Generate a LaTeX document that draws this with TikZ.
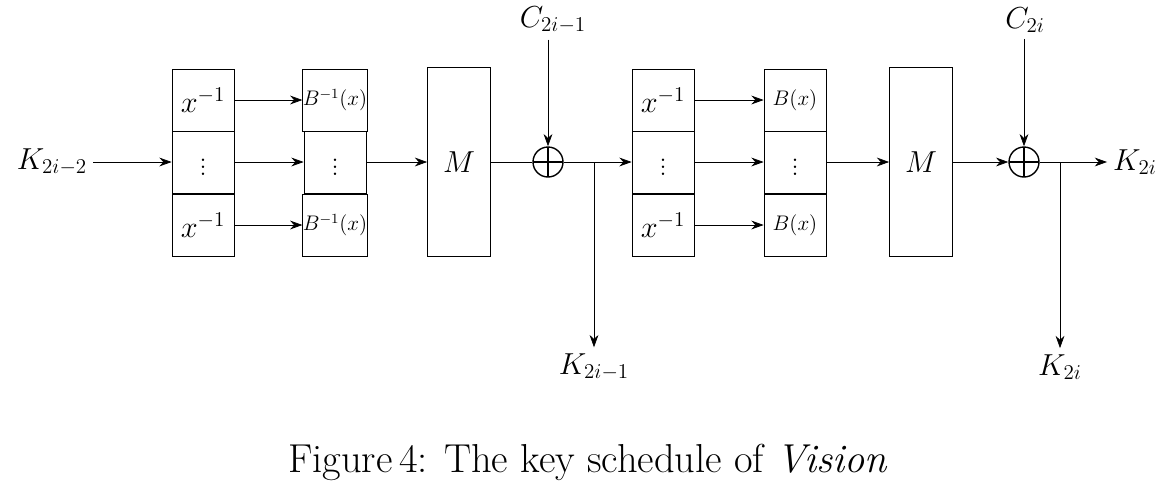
\documentclass[tikz,border=0pt]{standalone}
\usepackage{amsmath}
\usepackage{amssymb}
\usetikzlibrary{arrows.meta}
\begin{document}
\begin{tikzpicture}[x=0.02cm,y=-0.02cm,>={Stealth[length=7pt,width=5pt]},
  every node/.style={font=\fontsize{17}{20}\selectfont},
  cell/.style={draw,minimum width=62*0.02cm,minimum height=62*0.02cm,inner sep=0pt},
  big/.style={draw,minimum width=63*0.02cm,minimum height=189*0.02cm,inner sep=0pt},
  xr/.style={circle,draw,thick,minimum size=30*0.02cm,inner sep=0pt,
    path picture={\draw[thick] (path picture bounding box.north) -- (path picture bounding box.south)
      (path picture bounding box.west) -- (path picture bounding box.east);}},
  sm/.style={font=\fontsize{12}{14}\selectfont}]
\useasboundingbox (0,0) rectangle (1156,495);
% first round
\node[cell] (a1) at (203,100) {$x^{-1}$};
\node[cell] (a2) at (203,162) {$\vdots$};
\node[cell] (a3) at (203,225) {$x^{-1}$};
\node[cell,sm] (b1) at (335,100) {$B^{-1}(x)$};
\node[cell] (b2) at (335,162) {$\vdots$};
\node[cell,sm] (b3) at (335,225) {$B^{-1}(x)$};
\node[big] (m1) at (459,162) {$M$};
\node[xr] (x1) at (548,162) {};
% second round
\node[cell] (c1) at (663,100) {$x^{-1}$};
\node[cell] (c2) at (663,162) {$\vdots$};
\node[cell] (c3) at (663,225) {$x^{-1}$};
\node[cell,sm] (d1) at (795,100) {$B(x)$};
\node[cell] (d2) at (795,162) {$\vdots$};
\node[cell,sm] (d3) at (795,225) {$B(x)$};
\node[big] (m2) at (921,162) {$M$};
\node[xr] (x2) at (1024,162) {};
% labels
\node (kin) at (52,162) {$K_{2i-2}$};
\node (c1in) at (553,20) {$C_{2i-1}$};
\node (c2in) at (1025,20) {$C_{2i}$};
\node (k1) at (594,367) {$K_{2i-1}$};
\node (k2) at (1060,367) {$K_{2i}$};
\node (kout) at (1135,162) {$K_{2i}$};
\coordinate (s1) at (594,162);
\coordinate (s2) at (1060,162);
% connectors
\draw[->] (kin) -- (a2);
\foreach \r in {1,2,3}{
  \draw[->] (a\r) -- (b\r);
  \draw[->] (c\r) -- (d\r);
}
\draw[->] (b2) -- (m1);
\draw (m1) -- (x1);
\draw[->] (x1|-c1in.south) -- (x1);
\draw[->] (x1) -- (c2);
\draw[->] (s1) -- (k1);
\draw[->] (d2) -- (m2);
\draw[->] (m2) -- (x2);
\draw[->] (x2|-c2in.south) -- (x2);
\draw[->] (x2) -- (kout);
\draw[->] (s2) -- (k2);
\node[font=\fontsize{23}{26}\selectfont] (cap) at (588,462) {Figure\,4: The key schedule of \textit{Vision}};
\end{tikzpicture}
\end{document}
